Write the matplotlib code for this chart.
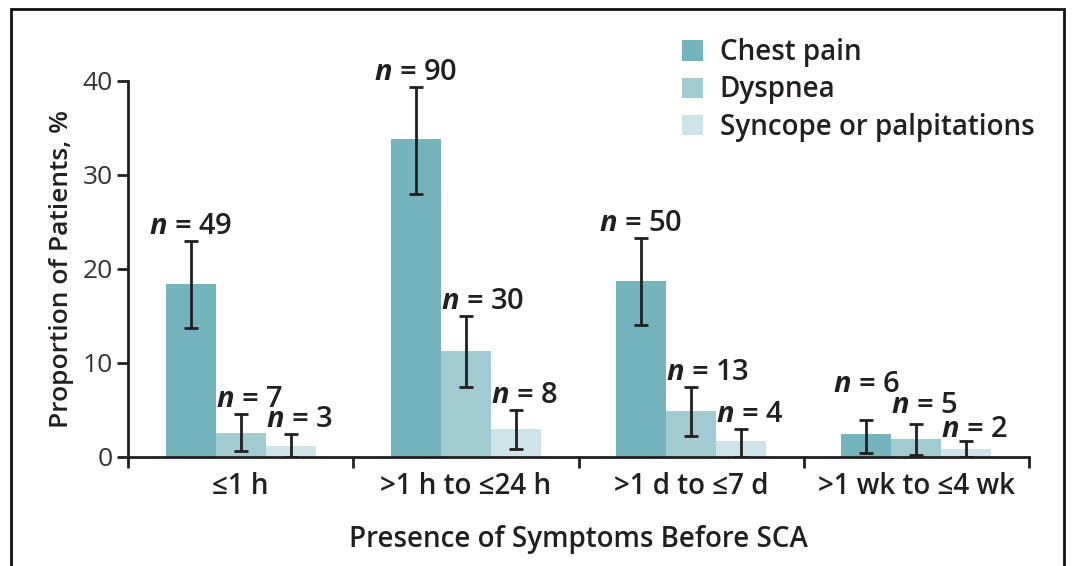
import numpy as np
import matplotlib
matplotlib.use('Agg')
import matplotlib.pyplot as plt
from matplotlib.patches import Patch, Rectangle

# Values (percent of patients, with 95% CI).
categories = ['≤1 h', '>1 h to ≤24 h', '>1 d to ≤7 d', '>1 wk to ≤4 wk']
series_names = ['Chest pain', 'Dyspnea', 'Syncope or palpitations']

chest = [18.4, 33.8, 18.7, 2.45]
chest_lo = [13.7, 28.0, 14.0, 0.4]
chest_hi = [23.0, 39.4, 23.3, 3.9]
chest_n = [49, 90, 50, 6]

dyspnea = [2.55, 11.3, 4.9, 1.9]
dyspnea_lo = [0.6, 7.4, 2.2, 0.2]
dyspnea_hi = [4.6, 15.0, 7.45, 3.5]
dyspnea_n = [7, 30, 13, 5]

syncope = [1.2, 3.0, 1.7, 0.85]
syncope_lo = [0.0, 0.85, 0.0, 0.0]
syncope_hi = [2.45, 5.0, 3.0, 1.7]
syncope_n = [3, 8, 4, 2]

colors = ['#74b5bd', '#a2cbd1', '#cde4e8']
text_color = '#231f20'

plt.rcParams['font.family'] = ['Open Sans', 'DejaVu Sans']
plt.rcParams['mathtext.fontset'] = 'custom'
plt.rcParams['mathtext.it'] = 'Open Sans:italic:bold'
plt.rcParams['mathtext.rm'] = 'Open Sans:bold'

fig = plt.figure(figsize=(10.72, 5.66), dpi=100)
ax = fig.add_axes([128 / 1072, 1 - 457 / 566, (1029 - 128) / 1072, (457 - 81) / 566])

x = np.arange(len(categories))
width = 0.222
groups = [
    (chest, chest_lo, chest_hi, chest_n),
    (dyspnea, dyspnea_lo, dyspnea_hi, dyspnea_n),
    (syncope, syncope_lo, syncope_hi, syncope_n),
]

# nudge (in data units) for the crowded labels in the last group
label_lift = {(0, 3): 2.3, (1, 3): 0.45, (2, 3): -0.35}

for s, (vals, lo, hi, ns) in enumerate(groups):
    pos = x + (s - 1) * width
    vals = np.array(vals)
    yerr = [vals - np.array(lo), np.array(hi) - vals]
    ax.bar(pos, vals, width, color=colors[s], label=series_names[s], zorder=2)
    ax.errorbar(pos, vals, yerr=yerr, fmt='none', ecolor=text_color,
                elinewidth=2, capsize=5, capthick=2, zorder=3)
    for i in range(len(categories)):
        ytxt = hi[i] + 0.75 + label_lift.get((s, i), 0)
        lbl = r'$n$ = %d' % ns[i]
        if s == 0:
            ax.text(pos[i], ytxt, lbl, ha='center', va='baseline', fontsize=21,
                    fontweight='semibold', color=text_color, clip_on=False)
        else:
            ax.text(pos[i] - width / 2, ytxt, lbl, ha='left', va='baseline', fontsize=21,
                    fontweight='semibold', color=text_color, clip_on=False)

ax.set_xlim(-0.5, 3.5)
ax.set_ylim(0, 40)
ax.set_yticks([0, 10, 20, 30, 40])
ax.set_xticks(np.arange(-0.5, 4, 1))
ax.set_xticklabels([])
ax.set_xticks(x, minor=True)
ax.set_xticklabels(categories, minor=True, fontsize=20, fontweight='semibold', color=text_color)
ax.tick_params(axis='x', which='minor', length=0, pad=11)
ax.tick_params(axis='x', which='major', direction='out', length=8, width=2, color=text_color)
ax.tick_params(axis='y', direction='out', length=8, width=2, color=text_color,
               labelsize=19, labelcolor='#333333', pad=3)

for side in ['top', 'right']:
    ax.spines[side].set_visible(False)
for side in ['left', 'bottom']:
    ax.spines[side].set_linewidth(2)
    ax.spines[side].set_color(text_color)

ax.set_xlabel('Presence of Symptoms Before SCA', fontsize=20, fontweight='semibold',
              color=text_color, labelpad=17)
ax.set_ylabel('Proportion of Patients, %', fontsize=19, fontweight='semibold',
              color=text_color, labelpad=6)

handles = [Patch(facecolor=c) for c in colors]
fig.legend(handles, series_names, loc='upper left', bbox_to_anchor=(671 / 1072, 1 - 27 / 566),
           frameon=False, handlelength=0.75, handleheight=0.75,
           handletextpad=0.6, labelspacing=0.3, borderaxespad=0,
           prop={'weight': 'semibold', 'size': 20}, labelcolor=text_color)

# thin frame around the whole panel, as in the journal figure
fig.add_artist(Rectangle((11 / 1072, -0.05), (1064 - 11) / 1072, 1.05 - 9 / 566,
                         transform=fig.transFigure, fill=False, edgecolor='#111111',
                         linewidth=2, clip_on=False))

fig.savefig('out.png', dpi=100)
